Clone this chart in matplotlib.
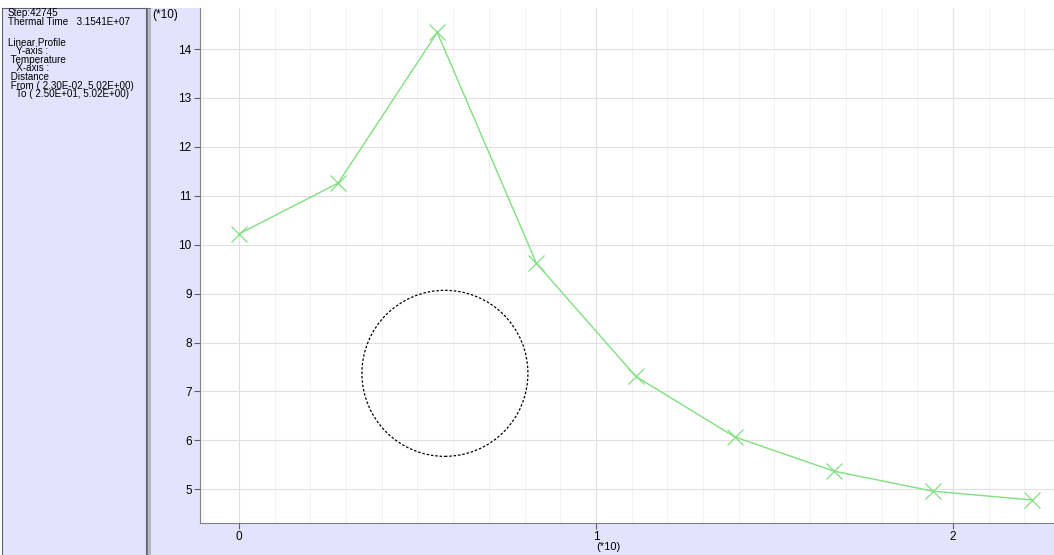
import matplotlib
matplotlib.use("Agg")
import matplotlib.pyplot as plt
from matplotlib.patches import Ellipse

plt.rcParams['font.family'] = ['Liberation Sans', 'DejaVu Sans']

# distance (*10) and temperature (*10)
dist = [0.0, 0.2778, 0.5556, 0.8333, 1.1111, 1.3889, 1.6667, 1.9444, 2.2222]
temp = [10.22, 11.26, 14.34, 9.62, 7.31, 6.07, 5.37, 4.96, 4.78]
xticks = [0, 1, 2]
yticks = [5, 6, 7, 8, 9, 10, 11, 12, 13, 14]
info = ["Step:42745", "Thermal Time   3.1541E+07", "Linear Profile",
        "   Y-axis :", " Temperature", "   X-axis :", " Distance",
        " From ( 2.30E-02, 5.02E+00)", "   To ( 2.50E+01, 5.02E+00)"]
info_y = [13, 22, 43, 51, 60, 68, 77, 86, 94]   # pixel rows

W, H = 1054, 555
lav = '#e3e3fd'
fig = plt.figure(figsize=(W / 100, H / 100), dpi=100)

def box(x0, y0, x1, y1):
    return [x0 / W, 1 - y1 / H, (x1 - x0) / W, (y1 - y0) / H]

# left info panel
pan = fig.add_axes(box(2, 8, 146, 556))
pan.set_facecolor(lav)
pan.set_xticks([]); pan.set_yticks([])
for s in pan.spines.values():
    s.set_color('#606070')
for line, yy in zip(info, info_y):
    fig.text(8 / W, 1 - yy / H, line, fontsize=7.1, va='center', ha='left')

# separator
sep = fig.add_axes(box(147, 8, 151, 556))
sep.set_facecolor('#b8b8c0')
sep.set_xticks([]); sep.set_yticks([])
for s in sep.spines.values():
    s.set_color('#707078')
    s.set_linewidth(0.6)

# lavender background around plot
bg = fig.add_axes(box(151, 8, 1054, 556))
bg.set_facecolor(lav)
bg.set_xticks([]); bg.set_yticks([])
for s in bg.spines.values():
    s.set_visible(False)

ax = fig.add_axes(box(200, 8, 1054, 523))
ax.set_facecolor('white')
ax.set_xlim(-0.109, 2.283)
ax.set_ylim(4.31, 14.84)
ax.set_xticks(xticks)
ax.set_yticks(yticks)
ax.set_xticks([i / 10 for i in range(-1, 23)], minor=True)
ax.grid(which='minor', axis='x', color='#f3f3f3', lw=0.8)
ax.grid(which='major', axis='both', color='#e0e0e0', lw=0.8)
ax.tick_params(which='major', length=4, width=0.8, color='#606060', labelsize=8.5, pad=2)
ax.tick_params(which='minor', length=0)
for s in ['top', 'right']:
    ax.spines[s].set_visible(False)
for s in ['left', 'bottom']:
    ax.spines[s].set_color('#808088')
ax.set_axisbelow(True)

ax.plot(dist, temp, color='#80e080', lw=1.0, marker='x', ms=11, mew=0.9, mec='#80e080')

circ = Ellipse((0.577, 7.37), 166 / 357, 166 / 48.9, fill=False, ls=(0, (2, 1.5)), lw=0.9, color='black')
ax.add_patch(circ)

fig.text(152 / W, 1 - 15 / H, '(*10)', fontsize=8.5, va='center')
fig.text(608 / W, 1 - 547 / H, '(*10)', fontsize=8, ha='center', va='center')

fig.savefig('out.png', dpi=100)
